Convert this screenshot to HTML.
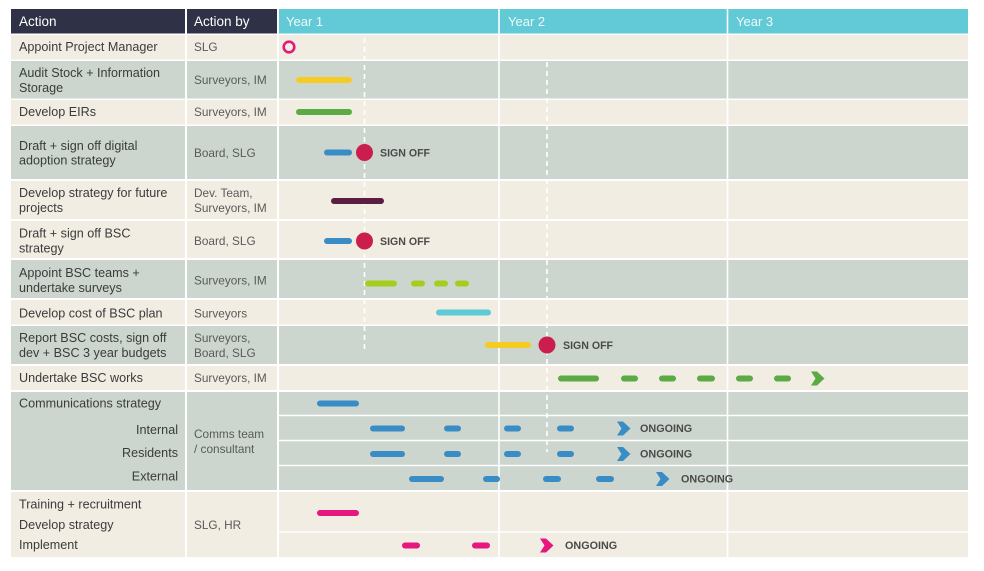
<!DOCTYPE html>
<html><head><meta charset="utf-8"><style>
html,body{margin:0;padding:0;background:#fff;}
svg{display:block;}
text{font-family:"Liberation Sans",Arial,sans-serif;}
.c1{font-size:12.6px;fill:#3b3b3b;}
.c2{font-size:11.8px;fill:#5a5a5a;}
.h{font-size:13.5px;fill:#fff;}
.y{font-size:13px;fill:#eefbfc;}
.so{font-size:10.6px;fill:#4a4a4a;font-weight:bold;}
.og{font-size:10.8px;fill:#4a4a4a;font-weight:bold;}
</style></head><body>
<svg width="984" height="571" viewBox="0 0 984 571" xmlns="http://www.w3.org/2000/svg">
<rect width="984" height="571" fill="#fff"/>
<!-- header -->
<rect x="11" y="9" width="174" height="24.5" fill="#2f3146"/>
<rect x="187" y="9" width="90" height="24.5" fill="#2f3146"/>
<rect x="279" y="9" width="689" height="24.5" fill="#62c9d6"/>
<g id="rows">
<!-- rows: y,h,color -->
<g fill="#f2ede3">
<rect x="11" y="35" width="174" height="24.5"/><rect x="187" y="35" width="90" height="24.5"/><rect x="279" y="35" width="689" height="24.5"/>
<rect x="11" y="100" width="174" height="24.5"/><rect x="187" y="100" width="90" height="24.5"/><rect x="279" y="100" width="689" height="24.5"/>
<rect x="11" y="181" width="174" height="38"/><rect x="187" y="181" width="90" height="38"/><rect x="279" y="181" width="689" height="38"/>
<rect x="11" y="221" width="174" height="37"/><rect x="187" y="221" width="90" height="37"/><rect x="279" y="221" width="689" height="37"/>
<rect x="11" y="300" width="174" height="24.5"/><rect x="187" y="300" width="90" height="24.5"/><rect x="279" y="300" width="689" height="24.5"/>
<rect x="11" y="366" width="174" height="24"/><rect x="187" y="366" width="90" height="24"/><rect x="279" y="366" width="689" height="24"/>
<rect x="11" y="492" width="174" height="65"/><rect x="187" y="492" width="90" height="65"/><rect x="279" y="492" width="689" height="65"/>
</g>
<g fill="#ccd6cf">
<rect x="11" y="61" width="174" height="37.5"/><rect x="187" y="61" width="90" height="37.5"/><rect x="279" y="61" width="689" height="37.5"/>
<rect x="11" y="126" width="174" height="53"/><rect x="187" y="126" width="90" height="53"/><rect x="279" y="126" width="689" height="53"/>
<rect x="11" y="260" width="174" height="38"/><rect x="187" y="260" width="90" height="38"/><rect x="279" y="260" width="689" height="38"/>
<rect x="11" y="326" width="174" height="38"/><rect x="187" y="326" width="90" height="38"/><rect x="279" y="326" width="689" height="38"/>
<rect x="11" y="392" width="174" height="98"/><rect x="187" y="392" width="90" height="98"/><rect x="279" y="392" width="689" height="98"/>
</g>
</g>
<!-- year dividers & sub-row lines -->
<g stroke="#fff" stroke-width="1.6">
<line x1="499" y1="9" x2="499" y2="557"/>
<line x1="727.5" y1="9" x2="727.5" y2="557"/>
<line x1="279" y1="415.5" x2="968" y2="415.5"/>
<line x1="279" y1="440.5" x2="968" y2="440.5"/>
<line x1="279" y1="465.5" x2="968" y2="465.5"/>
<line x1="279" y1="532" x2="968" y2="532"/>
</g>
<!-- dashed milestone lines -->
<g stroke="#fff" stroke-width="1.6" stroke-dasharray="5 4">
<line x1="364.5" y1="38" x2="364.5" y2="352"/>
<line x1="547" y1="62" x2="547" y2="452"/>
</g>
<!-- header text -->
<text class="h" x="19" y="21.5" dominant-baseline="central">Action</text>
<text class="h" x="194" y="21.5" dominant-baseline="central">Action by</text>
<text class="y" x="286" y="21.5" dominant-baseline="central">Year 1</text>
<text class="y" x="508" y="21.5" dominant-baseline="central">Year 2</text>
<text class="y" x="736" y="21.5" dominant-baseline="central">Year 3</text>
<!-- column 1 text -->
<g class="c1" dominant-baseline="central">
<text x="19" y="47" dominant-baseline="central">Appoint Project Manager</text>
<text x="19" y="73" dominant-baseline="central">Audit Stock + Information</text>
<text x="19" y="88" dominant-baseline="central">Storage</text>
<text x="19" y="112" dominant-baseline="central">Develop EIRs</text>
<text x="19" y="146" dominant-baseline="central">Draft + sign off digital</text>
<text x="19" y="160.5" dominant-baseline="central">adoption strategy</text>
<text x="19" y="193" dominant-baseline="central">Develop strategy for future</text>
<text x="19" y="208" dominant-baseline="central">projects</text>
<text x="19" y="233.5" dominant-baseline="central">Draft + sign off BSC</text>
<text x="19" y="248.5" dominant-baseline="central">strategy</text>
<text x="19" y="273" dominant-baseline="central">Appoint BSC teams +</text>
<text x="19" y="288" dominant-baseline="central">undertake surveys</text>
<text x="19" y="313.5" dominant-baseline="central">Develop cost of BSC plan</text>
<text x="19" y="338" dominant-baseline="central">Report BSC costs, sign off</text>
<text x="19" y="353" dominant-baseline="central">dev + BSC 3 year budgets</text>
<text x="19" y="378" dominant-baseline="central">Undertake BSC works</text>
<text x="19" y="403.5" dominant-baseline="central">Communications strategy</text>
<text x="178" y="430" text-anchor="end" dominant-baseline="central">Internal</text>
<text x="178" y="453" text-anchor="end" dominant-baseline="central">Residents</text>
<text x="178" y="476.5" text-anchor="end" dominant-baseline="central">External</text>
<text x="19" y="504.5" dominant-baseline="central">Training + recruitment</text>
<text x="19" y="525" dominant-baseline="central">Develop strategy</text>
<text x="19" y="545" dominant-baseline="central">Implement</text>
</g>
<!-- column 2 text -->
<g class="c2">
<text x="194" y="47" dominant-baseline="central">SLG</text>
<text x="194" y="80" dominant-baseline="central">Surveyors, IM</text>
<text x="194" y="112" dominant-baseline="central">Surveyors, IM</text>
<text x="194" y="153" dominant-baseline="central">Board, SLG</text>
<text x="194" y="193" dominant-baseline="central">Dev. Team,</text>
<text x="194" y="208" dominant-baseline="central">Surveyors, IM</text>
<text x="194" y="241" dominant-baseline="central">Board, SLG</text>
<text x="194" y="280.5" dominant-baseline="central">Surveyors, IM</text>
<text x="194" y="313.5" dominant-baseline="central">Surveyors</text>
<text x="194" y="338" dominant-baseline="central">Surveyors,</text>
<text x="194" y="353" dominant-baseline="central">Board, SLG</text>
<text x="194" y="378" dominant-baseline="central">Surveyors, IM</text>
<text x="194" y="434" dominant-baseline="central">Comms team</text>
<text x="194" y="449" dominant-baseline="central">/ consultant</text>
<text x="194" y="525" dominant-baseline="central">SLG, HR</text>
</g>
<!-- bars -->
<g stroke-width="6" stroke-linecap="round" fill="none">
<circle cx="289" cy="47" r="5.3" stroke="#e5187b" stroke-width="2.6"/>
<line x1="299" y1="80" x2="349" y2="80" stroke="#f6cc22"/>
<line x1="299" y1="112" x2="349" y2="112" stroke="#5bab45"/>
<line x1="327" y1="152.5" x2="349" y2="152.5" stroke="#3a8cc4"/>
<line x1="334" y1="201" x2="381" y2="201" stroke="#5a1e42"/>
<line x1="327" y1="241" x2="349" y2="241" stroke="#3a8cc4"/>
<g stroke="#a5cd20">
<line x1="368" y1="283.5" x2="394" y2="283.5"/>
<line x1="414" y1="283.5" x2="422" y2="283.5"/>
<line x1="437" y1="283.5" x2="445" y2="283.5"/>
<line x1="458" y1="283.5" x2="466" y2="283.5"/>
</g>
<line x1="439" y1="312.5" x2="488" y2="312.5" stroke="#5ecad6"/>
<line x1="488" y1="345" x2="528" y2="345" stroke="#f6cc22"/>
<g stroke="#5bab45">
<line x1="561" y1="378.5" x2="596" y2="378.5"/>
<line x1="624" y1="378.5" x2="635" y2="378.5"/>
<line x1="662" y1="378.5" x2="673" y2="378.5"/>
<line x1="700" y1="378.5" x2="712" y2="378.5"/>
<line x1="739" y1="378.5" x2="750" y2="378.5"/>
<line x1="777" y1="378.5" x2="788" y2="378.5"/>
</g>
<g stroke="#3a8cc4">
<line x1="320" y1="403.5" x2="356" y2="403.5"/>
<line x1="373" y1="428.5" x2="402" y2="428.5"/>
<line x1="447" y1="428.5" x2="458" y2="428.5"/>
<line x1="507" y1="428.5" x2="518" y2="428.5"/>
<line x1="560" y1="428.5" x2="571" y2="428.5"/>
<line x1="373" y1="454" x2="402" y2="454"/>
<line x1="447" y1="454" x2="458" y2="454"/>
<line x1="507" y1="454" x2="518" y2="454"/>
<line x1="560" y1="454" x2="571" y2="454"/>
<line x1="412" y1="479" x2="441" y2="479"/>
<line x1="486" y1="479" x2="497" y2="479"/>
<line x1="546" y1="479" x2="558" y2="479"/>
<line x1="599" y1="479" x2="611" y2="479"/>
</g>
<g stroke="#e6177f">
<line x1="320" y1="513" x2="356" y2="513"/>
<line x1="405" y1="545.5" x2="417" y2="545.5"/>
<line x1="475" y1="545.5" x2="487" y2="545.5"/>
</g>
</g>
<!-- sign off circles -->
<circle cx="364.5" cy="152.5" r="8.5" fill="#cb1e4f"/>
<circle cx="364.5" cy="241" r="8.5" fill="#cb1e4f"/>
<circle cx="547" cy="345" r="8.5" fill="#cb1e4f"/>
<text class="so" x="380" y="153.5" dominant-baseline="central">SIGN OFF</text>
<text class="so" x="380" y="242" dominant-baseline="central">SIGN OFF</text>
<text class="so" x="563" y="346" dominant-baseline="central">SIGN OFF</text>
<!-- arrows -->
<polygon points="811,371.5 817,371.5 824.5,378.5 817,385.5 811,385.5 815.5,378.5" fill="#5bab45"/>
<polygon points="617,421.5 623,421.5 630.5,428.5 623,435.5 617,435.5 621.5,428.5" fill="#3a8cc4"/>
<polygon points="617,447 623,447 630.5,454 623,461 617,461 621.5,454" fill="#3a8cc4"/>
<polygon points="656,472 662,472 669.5,479 662,486 656,486 660.5,479" fill="#3a8cc4"/>
<polygon points="540,538.5 546,538.5 553.5,545.5 546,552.5 540,552.5 544.5,545.5" fill="#e6177f"/>
<text class="og" x="640" y="429" dominant-baseline="central">ONGOING</text>
<text class="og" x="640" y="454.5" dominant-baseline="central">ONGOING</text>
<text class="og" x="681" y="479.5" dominant-baseline="central">ONGOING</text>
<text class="og" x="565" y="546" dominant-baseline="central">ONGOING</text>
</svg>
</body></html>
